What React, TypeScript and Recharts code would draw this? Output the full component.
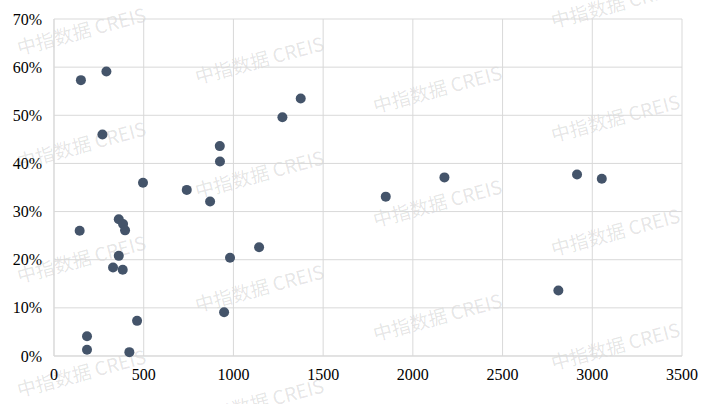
import React from "react";
import {
  ScatterChart,
  Scatter,
  XAxis,
  YAxis,
  CartesianGrid,
} from "recharts";

// x values and y values (%)
const xValues = [
  150, 292, 270, 924, 1375, 1273, 925, 496, 740, 870, 361, 385, 396, 143,
  361, 329, 383, 1143, 981, 948, 463, 184, 184, 420, 2176, 2915, 3053, 1849,
  2811,
];
const yValues = [
  57.3, 59.1, 46.0, 43.6, 53.5, 49.6, 40.4, 36.0, 34.5, 32.1, 28.4, 27.4,
  26.1, 26.0, 20.8, 18.4, 17.9, 22.6, 20.4, 9.1, 7.3, 4.1, 1.3, 0.8, 37.1,
  37.7, 36.8, 33.1, 13.6,
];
const xTicks = [0, 500, 1000, 1500, 2000, 2500, 3000, 3500];
const yTicks = [0, 10, 20, 30, 40, 50, 60, 70];

const points = xValues.map((x, i) => ({ x, y: yValues[i] }));

const WM_TEXT = "中指数据 CREIS";
const SERIF = "'Liberation Serif', 'Times New Roman', serif";

function Watermark() {
  const marks: { x: number; y: number }[] = [];
  for (let i = 0; i < 4; i++) {
    for (let j = -1; j < 4; j++) {
      const y = 30 + i * 29 + j * 114;
      if (y < 0 || y > 404) continue;
      marks.push({ x: 81 + i * 178, y });
    }
  }
  return (
    <svg
      width={708}
      height={404}
      style={{ position: "absolute", left: 0, top: 0 }}
    >
      {marks.map((m, k) => (
        <text
          key={k}
          x={m.x}
          y={m.y}
          textAnchor="middle"
          dominantBaseline="central"
          transform={`rotate(-15 ${m.x} ${m.y})`}
          fontFamily="'Noto Sans CJK SC', 'Noto Sans', sans-serif"
          fontSize={19}
          fill="#000"
          fillOpacity={0.11}
        >
          {WM_TEXT}
        </text>
      ))}
    </svg>
  );
}

const Dot = (props: any) => {
  const { cx, cy } = props;
  return <circle cx={cx} cy={cy} r={5} fill="#44546a" />;
};

const XTick = (props: any) => {
  const { x, y, payload } = props;
  return (
    <text
      x={x}
      y={y + 16}
      textAnchor="middle"
      fontFamily={SERIF}
      fontSize={16}
      fill="#000"
    >
      {payload.value}
    </text>
  );
};

const YTick = (props: any) => {
  const { x, y, payload } = props;
  return (
    <text
      x={x}
      y={y + 5.5}
      textAnchor="end"
      fontFamily={SERIF}
      fontSize={16}
      fill="#000"
    >
      {`${payload.value}%`}
    </text>
  );
};

export default function App() {
  return (
    <div
      style={{
        position: "absolute",
        left: 0,
        top: 0,
        width: 708,
        height: 404,
        background: "#fff",
      }}
    >
      <Watermark />
      <div style={{ position: "absolute", left: 0, top: 0 }}>
        <ScatterChart
          width={708}
          height={404}
          margin={{ top: 19, right: 26, left: 0, bottom: 18 }}
        >
          <CartesianGrid stroke="#d9d9d9" strokeWidth={1} />
          <XAxis
            type="number"
            dataKey="x"
            domain={[0, 3500]}
            ticks={xTicks}
            tick={<XTick />}
            tickLine={false}
            axisLine={{ stroke: "#d9d9d9" }}
            tickMargin={2}
            height={30}
            interval={0}
          />
          <YAxis
            type="number"
            dataKey="y"
            domain={[0, 70]}
            ticks={yTicks}
            tick={<YTick />}
            tickLine={false}
            axisLine={{ stroke: "#d9d9d9" }}
            tickMargin={6}
            width={54}
            interval={0}
          />
          <Scatter
            data={points}
            shape={<Dot />}
            isAnimationActive={false}
          />
        </ScatterChart>
      </div>
    </div>
  );
}
